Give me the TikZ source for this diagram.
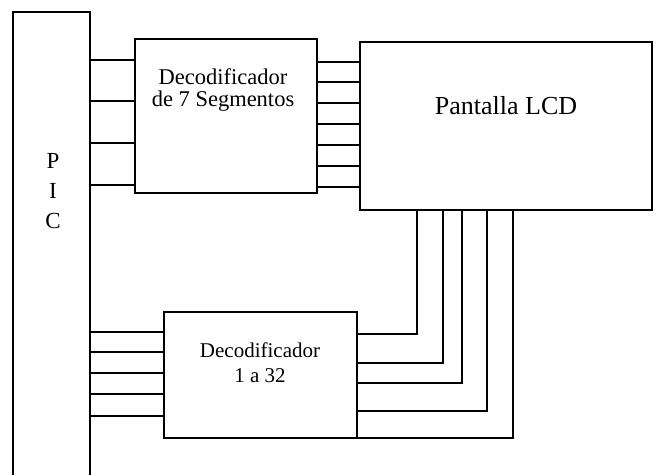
\documentclass[tikz,border=0pt]{standalone}
\usepackage{fontspec}
\setmainfont{Liberation Serif}
\begin{document}
\begin{tikzpicture}[x=1pt,y=-1pt,
  blk/.style={draw,line width=1.2pt,inner sep=0pt,outer sep=0pt},
  wire/.style={line width=1.2pt},
  lbl/.style={align=center,font=\fontsize{21}{22}\selectfont,inner sep=0pt}]
\useasboundingbox (0,0) rectangle (660,474);
\clip (0,0) rectangle (660,474);
% blocks
\node[blk,minimum width=77pt,minimum height=470pt] (pic) at (51.5,247) {};
\node[blk,minimum width=182pt,minimum height=154pt] (d7) at (226,116) {};
\node[blk,minimum width=292pt,minimum height=168pt] (lcd) at (506,126) {};
\node[blk,minimum width=193pt,minimum height=126pt] (d32) at (260.5,375) {};
% texts
\node[lbl,font=\fontsize{23}{24}\selectfont] (tp) at (53,161) {P};
\node[lbl,font=\fontsize{23}{24}\selectfont] (ti) at (53,191) {I};
\node[lbl,font=\fontsize{23}{24}\selectfont] (tc) at (53,221) {C};
\node[lbl,font=\fontsize{22.5}{22.5}\selectfont] (t7) at (223,90) {Decodificador\\de 7 Segmentos};
\node[lbl,font=\fontsize{26}{28}\selectfont] (tl) at (506,106) {Pantalla LCD};
\node[lbl,font=\fontsize{21}{25}\selectfont] (t32) at (260,363) {Decodificador\\1 a 32};
% PIC -> decoder 7
\foreach \y in {60,101,143,185}
  \draw[wire] (pic.east |- 0,\y) -- (d7.west |- 0,\y);
% decoder 7 -> LCD
\foreach \y in {62,82,103,124,145,166,187}
  \draw[wire] (d7.east |- 0,\y) -- (lcd.west |- 0,\y);
% PIC -> decoder 1 a 32
\foreach \y in {332,352,373,394,416}
  \draw[wire] (pic.east |- 0,\y) -- (d32.west |- 0,\y);
% decoder 1 a 32 -> LCD
\foreach \y/\x in {334/417,363/443,383/462,411/487,438/513}
  \draw[wire] (d32.east |- 0,\y) -- (\x,\y) -- (lcd.south -| \x,0);
\end{tikzpicture}
\end{document}
